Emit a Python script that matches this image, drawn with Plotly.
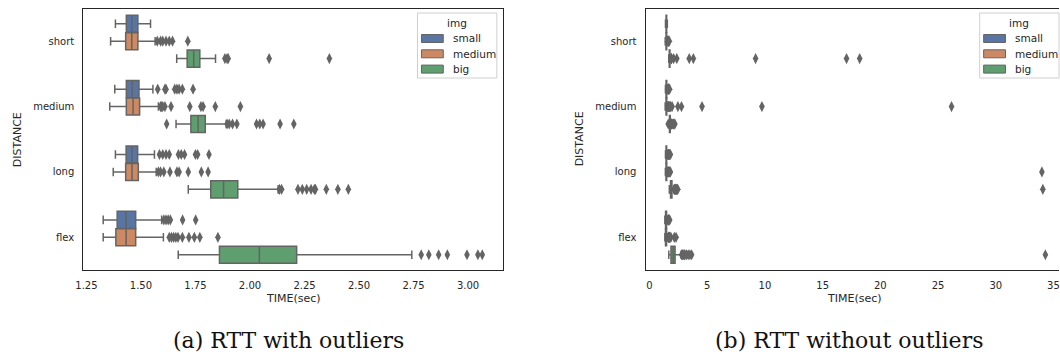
import plotly.graph_objects as go

# ---------------------------------------------------------------- data
CATEGORIES = ["short", "medium", "long", "flex"]
HUES = ["small", "medium", "big"]
HUE_COLORS = ["#5975a4", "#cc8963", "#5f9e6e"]

# box statistics per image size, one value per distance category
small_lo = [1.383, 1.380, 1.383, 1.327]
small_q1 = [1.433, 1.433, 1.432, 1.391]
small_med = [1.458, 1.460, 1.459, 1.432]
small_q3 = [1.486, 1.491, 1.485, 1.476]
small_hi = [1.544, 1.555, 1.562, 1.595]

medium_lo = [1.361, 1.357, 1.373, 1.327]
medium_q1 = [1.430, 1.433, 1.430, 1.385]
medium_med = [1.458, 1.464, 1.459, 1.432]
medium_q3 = [1.486, 1.494, 1.488, 1.476]
medium_hi = [1.565, 1.580, 1.570, 1.603]

big_lo = [1.664, 1.661, 1.717, 1.671]
big_q1 = [1.712, 1.729, 1.820, 1.860]
big_med = [1.742, 1.762, 1.879, 2.043]
big_q3 = [1.770, 1.795, 1.944, 2.214]
big_hi = [1.842, 1.891, 2.129, 2.742]

# flier points (panel a)
small_out = [
    [],
    [1.577, 1.61, 1.615, 1.655, 1.665, 1.675, 1.69, 1.739],
    [1.585, 1.60, 1.615, 1.63, 1.672, 1.685, 1.70, 1.75, 1.76, 1.812],
    [1.605, 1.615, 1.625, 1.635, 1.691, 1.751],
]
medium_out = [
    [1.575, 1.59, 1.60, 1.615, 1.63, 1.645, 1.715],
    [1.59, 1.595, 1.60, 1.61, 1.638, 1.724, 1.775, 1.785, 1.841, 1.956],
    [1.58, 1.59, 1.605, 1.633, 1.665, 1.675, 1.717, 1.777, 1.808],
    [1.63, 1.64, 1.65, 1.66, 1.67, 1.69, 1.72, 1.745, 1.77, 1.853],
]
big_out = [
    [1.885, 1.895, 1.90, 2.088, 2.364],
    [1.618, 1.895, 1.905, 1.92, 1.94, 2.03, 2.045, 2.06, 2.138, 2.201],
    [2.135, 2.145, 2.22, 2.24, 2.26, 2.28, 2.295, 2.30, 2.35, 2.403, 2.451],
    [2.785, 2.82, 2.865, 2.905, 2.995, 3.045, 3.065],
]

# additional flier points that only appear in panel b
small_extra = [[], [], [], []]
medium_extra = [[], [2.46, 2.77, 4.55, 9.74, 26.17], [34.0], [2.15, 2.3]]
big_extra = [[3.44, 3.8, 9.19, 17.07, 18.21], [], [34.08], [3.2, 3.35, 3.5, 3.65, 34.3]]

X_TICKS_A = [1.25, 1.50, 1.75, 2.00, 2.25, 2.50, 2.75, 3.00]
X_TICKS_B = [0, 5, 10, 15, 20, 25, 30, 35]
CAPTIONS = ["(a) RTT with outliers", "(b) RTT without outliers"]

# ---------------------------------------------------------------- layout helpers
W, H = 1060, 354
GRAY = "#646464"
INK = "#262626"
FONT = "DejaVu Sans"
HUE_STEP = 0.8 / 3
BOX_W = HUE_STEP * 0.98


def fx(p):
    return p / W


def fy(p):
    return 1 - p / H


PLOT_TOP, PLOT_BOTTOM = 8.5, 270
panels = [
    dict(xa="x", ya="y", left=76, right=499, xrange=[1.236, 3.159], ticks=X_TICKS_A,
         fmt=".2f", extra=False, legend_left=413),
    dict(xa="x2", ya="y2", left=643, right=1064, xrange=[-0.344, 35.48], ticks=X_TICKS_B,
         fmt="d", extra=True, legend_left=980),
]

stats = {
    "small": (small_lo, small_q1, small_med, small_q3, small_hi, small_out, small_extra),
    "medium": (medium_lo, medium_q1, medium_med, medium_q3, medium_hi, medium_out, medium_extra),
    "big": (big_lo, big_q1, big_med, big_q3, big_hi, big_out, big_extra),
}

fig = go.Figure()
for pnl in panels:
    for h, (hue, color) in enumerate(zip(HUES, HUE_COLORS)):
        lo, q1, med, q3, hi, out, extra = stats[hue]
        pos = [i + (h - 1) * HUE_STEP for i in range(len(CATEGORIES))]
        fig.add_trace(go.Box(
            y=pos, q1=q1, median=med, q3=q3, lowerfence=lo, upperfence=hi,
            orientation="h", width=BOX_W, whiskerwidth=0.5,
            fillcolor=color, line=dict(color=GRAY, width=1.5),
            boxpoints=False, showlegend=False, hoverinfo="skip",
            xaxis=pnl["xa"], yaxis=pnl["ya"],
        ))
        fx_vals, fy_vals = [], []
        for i, p in enumerate(pos):
            pts = list(out[i]) + (list(extra[i]) if pnl["extra"] else [])
            fx_vals += pts
            fy_vals += [p] * len(pts)
        fig.add_trace(go.Scatter(
            x=fx_vals, y=fy_vals, mode="markers",
            marker=dict(symbol="diamond-tall", size=8, color=GRAY, line=dict(width=0)),
            showlegend=False, hoverinfo="skip",
            xaxis=pnl["xa"], yaxis=pnl["ya"],
        ))

ydom = [fy(PLOT_BOTTOM), fy(PLOT_TOP)]
axis_common = dict(showgrid=False, zeroline=False, showline=True, linecolor=INK, linewidth=1.2,
                   ticks="outside", ticklen=6, tickcolor="rgba(0,0,0,0)",
                   ticklabeloverflow="allow",
                   tickfont=dict(family=FONT, size=10, color=INK))
layout = dict(
    width=W, height=H, margin=dict(l=0, r=0, t=0, b=0),
    paper_bgcolor="white", plot_bgcolor="white", showlegend=False,
    font=dict(family=FONT, color=INK),
)
annotations, shapes = [], []
for k, pnl in enumerate(panels):
    sfx = "" if k == 0 else "2"
    right = min(pnl["right"], W)
    layout["xaxis" + sfx] = dict(
        axis_common, domain=[fx(pnl["left"]), fx(right)], range=pnl["xrange"],
        tickvals=pnl["ticks"], tickformat=pnl["fmt"], anchor="y" + sfx, mirror=True,
    )
    layout["yaxis" + sfx] = dict(
        axis_common, domain=ydom, range=[len(CATEGORIES) - 0.5, -0.5],
        tickvals=list(range(len(CATEGORIES))), ticktext=CATEGORIES,
        anchor="x" + sfx, mirror=(k == 0),
    )
    cx = (pnl["left"] + pnl["right"]) / 2
    annotations.append(dict(text="TIME(sec)", x=fx(cx), y=fy(298), xref="paper", yref="paper",
                            showarrow=False, xanchor="center", yanchor="middle",
                            font=dict(family=FONT, size=11, color=INK)))
    annotations.append(dict(text="DISTANCE", x=fx(pnl["left"] - 67), y=fy((PLOT_TOP + PLOT_BOTTOM) / 2),
                            xref="paper", yref="paper", showarrow=False, textangle=-90,
                            xanchor="center", yanchor="middle",
                            font=dict(family=FONT, size=11, color=INK)))
    annotations.append(dict(text=CAPTIONS[k], x=fx(cx - 5), y=0, xref="paper", yref="paper",
                            showarrow=False, xanchor="center", yanchor="bottom", borderpad=0,
                            font=dict(family="DejaVu Serif", size=22, color="#111111")))

    # legend box
    lx = pnl["legend_left"]
    shapes.append(dict(type="rect", xref="paper", yref="paper",
                       x0=fx(lx), x1=fx(lx + 80), y0=fy(78), y1=fy(13),
                       line=dict(color="#d0d0d0", width=1), fillcolor="rgba(255,255,255,0.85)",
                       layer="above"))
    annotations.append(dict(text="img", x=fx(lx + 40), y=fy(23), xref="paper", yref="paper",
                            showarrow=False, xanchor="center", yanchor="middle",
                            font=dict(family=FONT, size=10.5, color=INK)))
    for h, (hue, color) in enumerate(zip(HUES, HUE_COLORS)):
        cy = 38.5 + h * 15.3
        shapes.append(dict(type="rect", xref="paper", yref="paper",
                           x0=fx(lx + 4), x1=fx(lx + 26), y0=fy(cy + 4), y1=fy(cy - 4),
                           line=dict(color=GRAY, width=1), fillcolor=color, layer="above"))
        annotations.append(dict(text=hue, x=fx(lx + 33.5), y=fy(cy), xref="paper", yref="paper",
                                showarrow=False, xanchor="left", yanchor="middle",
                                font=dict(family=FONT, size=10.5, color=INK)))

layout["annotations"] = annotations
layout["shapes"] = shapes
fig.update_layout(**layout)
fig.write_html("out.html")
